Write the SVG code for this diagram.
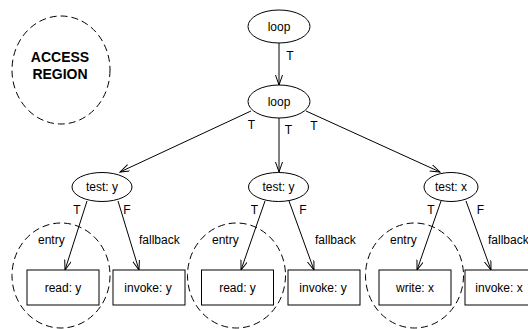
<svg xmlns="http://www.w3.org/2000/svg" width="528" height="329" viewBox="0 0 528 329">
<style>
text{font-family:"Liberation Sans",Arial,sans-serif;font-size:12px;fill:#000}
.c{text-anchor:middle}
.b{font-weight:bold;font-size:14px}
.n{fill:#fff;stroke:#000;stroke-width:1}
.r{fill:none;stroke:#000;stroke-width:1;stroke-dasharray:7,4}
.e{fill:none;stroke:#000;stroke-width:1;marker-end:url(#ah)}
</style>
<defs>
<marker id="ah" markerWidth="11" markerHeight="8" refX="10" refY="3.5" orient="auto" markerUnits="userSpaceOnUse">
<path d="M0,0 L10,3.5 L0,7" fill="none" stroke="#000" stroke-width="1"/>
</marker>
</defs>
<rect width="528" height="329" fill="#fff"/>
<g id="access-region">
<ellipse class="r" cx="61" cy="70" rx="49" ry="54"/>
<text class="c b" x="60" y="62">ACCESS</text>
<text class="c b" x="60" y="79">REGION</text>
</g>
<g id="entry-regions">
<g id="entry1"><ellipse class="r" cx="61" cy="275.5" rx="49" ry="52.5"/><text x="38" y="244">entry</text></g>
<g id="entry2"><ellipse class="r" cx="236.5" cy="275.5" rx="49" ry="52.5"/><text x="212" y="244">entry</text></g>
<g id="entry3"><ellipse class="r" cx="414.5" cy="275.5" rx="49" ry="52.5"/><text x="390" y="244">entry</text></g>
</g>
<g id="connectors">
<line class="e" x1="279" y1="43" x2="279" y2="85"/>
<line class="e" x1="251" y1="111" x2="120" y2="172"/>
<line class="e" x1="279" y1="118" x2="279" y2="172"/>
<line class="e" x1="306" y1="111" x2="440" y2="172"/>
<line class="e" x1="87" y1="201" x2="65" y2="270"/>
<line class="e" x1="118" y1="201" x2="139" y2="270"/>
<line class="e" x1="265" y1="201" x2="241" y2="270"/>
<line class="e" x1="289" y1="201" x2="314" y2="270"/>
<line class="e" x1="441" y1="201" x2="417" y2="270"/>
<line class="e" x1="466" y1="201" x2="491" y2="270"/>
<text class="c" x="290" y="60">T</text>
<text class="c" x="251.5" y="129">T</text>
<text class="c" x="288.5" y="134">T</text>
<text class="c" x="314" y="130">T</text>
<text class="c" x="77" y="214">T</text>
<text class="c" x="127" y="214">F</text>
<text class="c" x="254.5" y="214">T</text>
<text class="c" x="303" y="214">F</text>
<text class="c" x="431" y="214">T</text>
<text class="c" x="480.5" y="214">F</text>
<text x="139" y="244">fallback</text>
<text x="315" y="244">fallback</text>
<text x="488" y="244">fallback</text>
</g>
<g id="loop1"><ellipse class="n" cx="279" cy="26.5" rx="31" ry="16.5"/><text class="c" x="279" y="30.5">loop</text></g>
<g id="loop2"><ellipse class="n" cx="279" cy="101.5" rx="31" ry="16.5"/><text class="c" x="279" y="105.5">loop</text></g>
<g id="test1"><ellipse class="n" cx="102" cy="187" rx="30" ry="14.5"/><text class="c" x="102" y="191">test: y</text></g>
<g id="test2"><ellipse class="n" cx="278.5" cy="187" rx="30" ry="14.5"/><text class="c" x="278.5" y="191">test: y</text></g>
<g id="test3"><ellipse class="n" cx="451" cy="187" rx="27" ry="14.5"/><text class="c" x="451" y="191">test: x</text></g>
<g id="read1"><rect class="n" x="27" y="270" width="72" height="35"/><text class="c" x="63" y="291.5">read: y</text></g>
<g id="invoke1"><rect class="n" x="113" y="270" width="72" height="35"/><text class="c" x="148" y="291.5">invoke: y</text></g>
<g id="read2"><rect class="n" x="201.5" y="270" width="72" height="35"/><text class="c" x="237.5" y="291.5">read: y</text></g>
<g id="invoke2"><rect class="n" x="288" y="270" width="72" height="35"/><text class="c" x="323" y="291.5">invoke: y</text></g>
<g id="write3"><rect class="n" x="379" y="270" width="72" height="35"/><text class="c" x="415" y="291.5">write: x</text></g>
<g id="invoke3"><rect class="n" x="465" y="270" width="72" height="35"/><text class="c" x="499" y="291.5">invoke: x</text></g>
</svg>
